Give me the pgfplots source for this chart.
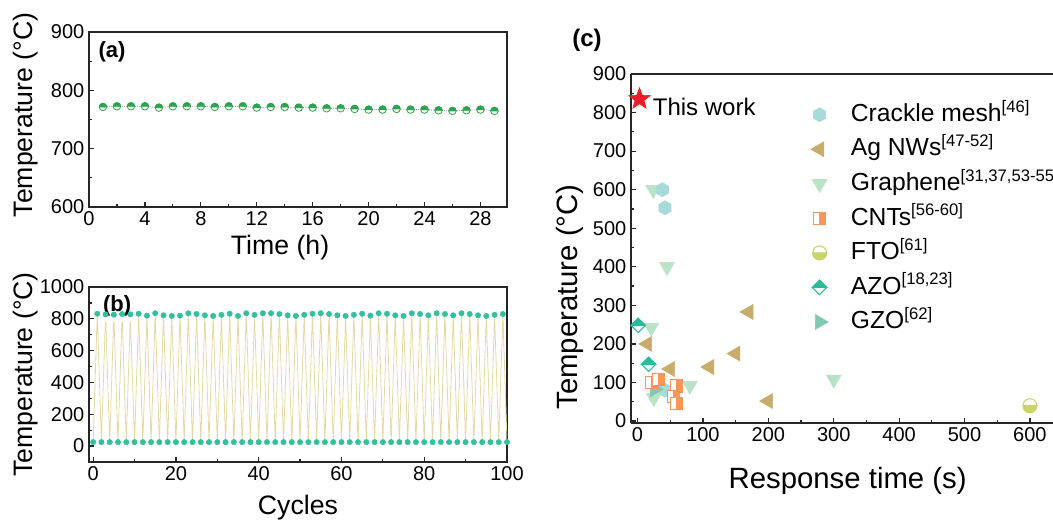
\documentclass[border=0pt]{standalone}
\usepackage{fontspec}
\setmainfont{Liberation Sans}
\usepackage{pgfplots}
\usepackage{pgfplotstable}
\pgfplotsset{compat=1.18}

% colours
\definecolor{cGreenA}{HTML}{2EA34F}
\definecolor{cDotB}{HTML}{36BF9C}
\definecolor{cLineB}{HTML}{E6D7A6}
\definecolor{cCrackle}{HTML}{A6DBD9}
\definecolor{cAg}{HTML}{C8AC6B}
\definecolor{cGraph}{HTML}{B9E2C6}
\definecolor{cCNT}{HTML}{F5965A}
\definecolor{cFTO}{HTML}{C9D566}
\definecolor{cAZO}{HTML}{2BBA9A}
\definecolor{cGZO}{HTML}{82C7B2}
\definecolor{cStar}{HTML}{EE1C25}

% half-filled circle, upper half solid
\pgfdeclareplotmark{halfcircA}{%
  \pgfpathcircle{\pgfpointorigin}{\pgfplotmarksize}%
  \pgfsetfillcolor{white}\pgfusepathqfillstroke
  \pgfpathmoveto{\pgfqpoint{\pgfplotmarksize}{0pt}}%
  \pgfpatharc{0}{180}{\pgfplotmarksize}%
  \pgfpathclose
  \pgfsetfillcolor{cGreenA}\pgfusepathqfillstroke}
% half-filled circle, lower half solid
\pgfdeclareplotmark{halfcircFTO}{%
  \pgfpathcircle{\pgfpointorigin}{\pgfplotmarksize}%
  \pgfsetfillcolor{white}\pgfusepathqfillstroke
  \pgfpathmoveto{\pgfqpoint{-\pgfplotmarksize}{0pt}}%
  \pgfpatharc{180}{360}{\pgfplotmarksize}%
  \pgfpathclose
  \pgfsetfillcolor{cFTO}\pgfusepathqfillstroke}
% diamond, upper half solid
\pgfdeclareplotmark{halfdiamAZO}{%
  \pgfpathmoveto{\pgfqpoint{0pt}{\pgfplotmarksize}}%
  \pgfpathlineto{\pgfqpoint{\pgfplotmarksize}{0pt}}%
  \pgfpathlineto{\pgfqpoint{0pt}{-\pgfplotmarksize}}%
  \pgfpathlineto{\pgfqpoint{-\pgfplotmarksize}{0pt}}%
  \pgfpathclose
  \pgfsetfillcolor{white}\pgfusepathqfillstroke
  \pgfpathmoveto{\pgfqpoint{0pt}{\pgfplotmarksize}}%
  \pgfpathlineto{\pgfqpoint{\pgfplotmarksize}{0pt}}%
  \pgfpathlineto{\pgfqpoint{-\pgfplotmarksize}{0pt}}%
  \pgfpathclose
  \pgfsetfillcolor{cAZO}\pgfusepathqfillstroke}
% square, right half solid
\pgfdeclareplotmark{halfsqCNT}{%
  \pgfpathrectangle{\pgfqpoint{-\pgfplotmarksize}{-\pgfplotmarksize}}{\pgfqpoint{2\pgfplotmarksize}{2\pgfplotmarksize}}%
  \pgfsetfillcolor{white}\pgfusepathqfillstroke
  \pgfpathrectangle{\pgfqpoint{0pt}{-\pgfplotmarksize}}{\pgfqpoint{\pgfplotmarksize}{2\pgfplotmarksize}}%
  \pgfsetfillcolor{cCNT}\pgfusepathqfillstroke}
% filled hexagon
\pgfdeclareplotmark{hexagon*}{%
  \pgfpathmoveto{\pgfpointpolar{90}{\pgfplotmarksize}}%
  \pgfpathlineto{\pgfpointpolar{150}{\pgfplotmarksize}}%
  \pgfpathlineto{\pgfpointpolar{210}{\pgfplotmarksize}}%
  \pgfpathlineto{\pgfpointpolar{270}{\pgfplotmarksize}}%
  \pgfpathlineto{\pgfpointpolar{330}{\pgfplotmarksize}}%
  \pgfpathlineto{\pgfpointpolar{30}{\pgfplotmarksize}}%
  \pgfpathclose\pgfusepathqfillstroke}
% filled five-point star
\pgfdeclareplotmark{fstar}{%
  \pgfpathmoveto{\pgfpointpolar{90}{\pgfplotmarksize}}%
  \pgfpathlineto{\pgfpointpolar{126}{0.42\pgfplotmarksize}}%
  \pgfpathlineto{\pgfpointpolar{162}{\pgfplotmarksize}}%
  \pgfpathlineto{\pgfpointpolar{198}{0.42\pgfplotmarksize}}%
  \pgfpathlineto{\pgfpointpolar{234}{\pgfplotmarksize}}%
  \pgfpathlineto{\pgfpointpolar{270}{0.42\pgfplotmarksize}}%
  \pgfpathlineto{\pgfpointpolar{306}{\pgfplotmarksize}}%
  \pgfpathlineto{\pgfpointpolar{342}{0.42\pgfplotmarksize}}%
  \pgfpathlineto{\pgfpointpolar{18}{\pgfplotmarksize}}%
  \pgfpathlineto{\pgfpointpolar{54}{0.42\pgfplotmarksize}}%
  \pgfpathclose\pgfusepathqfillstroke}

\newcommand{\sups}[1]{\raisebox{7pt}{\fontsize{12.5}{14}\selectfont #1}}

\pgfplotsset{
  panel/.style={
    scale only axis,
    axis line style={line width=1pt, color=black!85},
    tick align=inside,
    xtick pos=left, ytick pos=left,
    major tick length=3.8pt, minor tick length=2.2pt,
    every tick/.style={black!85, line width=0.9pt},
    tick label style={font=\fontsize{15}{18}\selectfont},
    /pgf/number format/assume math mode=true,
    /pgf/number format/1000 sep={},
    label style={font=\fontsize{20}{24}\selectfont},
  }
}

% temperature during a 29 h hold
\pgfplotstableread{
t T
1 771.4
2 772.6
3 772.6
4 772.6
5 770.3
6 772.6
7 772.6
8 772.6
9 771.4
10 772.6
11 772.6
12 770.3
13 771.4
14 771.4
15 770.3
16 770.3
17 769.1
18 769.1
19 768.0
20 766.9
21 766.9
22 768.0
23 766.9
24 766.9
25 765.7
26 764.6
27 765.7
28 766.9
29 764.6
}\holddata

% on/off cycling
\pgfplotstableread{
n T
0 25
1 832
2 25
3 828
4 25
5 826
6 25
7 830
8 25
9 828
10 25
11 832
12 25
13 820
14 25
15 835
16 25
17 822
18 25
19 818
20 25
21 820
22 25
23 835
24 25
25 830
26 25
27 822
28 25
29 818
30 25
31 825
32 25
33 832
34 25
35 818
36 25
37 835
38 25
39 825
40 25
41 835
42 25
43 835
44 25
45 830
46 25
47 822
48 25
49 818
50 25
51 825
52 25
53 832
54 25
55 835
56 25
57 830
58 25
59 822
60 25
61 818
62 25
63 825
64 25
65 832
66 25
67 820
68 25
69 835
70 25
71 832
72 25
73 822
74 25
75 818
76 25
77 835
78 25
79 830
80 25
81 822
82 25
83 835
84 25
85 830
86 25
87 822
88 25
89 835
90 25
91 830
92 25
93 822
94 25
95 818
96 25
97 825
98 25
99 830
100 25
}\cycledata

\begin{document}
\begin{tikzpicture}
%---------------- (a) ----------------
\begin{axis}[panel,
  at={(66.75pt,240pt)}, anchor=south west,
  width=313.5pt, height=131.25pt,
  xmin=0, xmax=29.9, ymin=600, ymax=900,
  xtick={0,4,...,28}, ytick={600,700,800,900},
  minor x tick num=1, minor y tick num=1,
  xlabel={Time (h)}, ylabel={Temperature (°C)},
  xlabel style={at={(axis description cs:0.457,-0.234)}, anchor=center},
  ylabel style={at={(axis description cs:-0.151,0.526)}, anchor=center},
]
\addplot[densely dotted, color=gray, line width=0.6pt,
  mark=halfcircA, mark size=2.8pt,
  mark options={solid, draw=cGreenA, line width=0.6pt}] table[x=t, y=T] {\holddata};
\node[font=\fontsize{16.5}{18}\bfseries, anchor=center] at (axis description cs:0.055,0.886) {(a)};
\end{axis}

%---------------- (b) ----------------
\begin{axis}[panel, set layers,
  at={(66.75pt,48.75pt)}, anchor=south west,
  width=313.5pt, height=131.25pt,
  xmin=-1, xmax=100, ymin=-100, ymax=1000,
  xtick={0,20,...,100}, ytick={0,200,...,1000},
  minor x tick num=1, minor y tick num=1,
  xlabel={Cycles}, ylabel={Temperature (°C)},
  xlabel style={at={(axis description cs:0.5,-0.263)}, anchor=center},
  ylabel style={at={(axis description cs:-0.151,0.5)}, anchor=center},
]
\addplot[color=cLineB, line width=0.6pt, no marks] table[x=n, y=T] {\cycledata};
\addplot[only marks, mark=*, mark size=2pt, color=cDotB] table[x=n, y=T] {\cycledata};
\node[on layer=axis foreground, fill=white, inner xsep=1pt, inner ysep=4pt, font=\fontsize{16.5}{18}\bfseries, anchor=center] at (axis cs:5.8,880) {(b)};
\end{axis}

%---------------- (c) ----------------
\begin{axis}[panel,
  at={(473.25pt,78pt)}, anchor=south west,
  width=323.7pt, height=261.75pt,
  axis x line*=bottom, axis y line*=left,
  xmin=-10, xmax=650, ymin=-5, ymax=900,
  xtick={0,100,...,600}, ytick={0,100,...,900},
  minor x tick num=1, minor y tick num=1,
  label style={font=\fontsize{22}{26}\selectfont},
  xlabel={Response time (s)}, ylabel={Temperature (°C)},
  xlabel style={at={(axis description cs:0.502,-0.167)}, anchor=center},
  ylabel style={at={(axis description cs:-0.141,0.361)}, anchor=center},
  legend cell align=left,
  legend style={draw=none, fill=none, at={(axis description cs:0.407,0.926)}, anchor=north west,
    font=\fontsize{18.5}{20}\selectfont, row sep=7.9pt,
    nodes={inner sep=0pt, text height=14pt, text depth=4pt},
    /tikz/every odd column/.append style={column sep=17pt}},
]
% top frame line
\draw[line width=1pt, black!85] (rel axis cs:0,1) -- (rel axis cs:1,1);

% Graphene
\addplot[only marks, mark=triangle*, mark size=6.5pt, color=cGraph, mark options={rotate=180}, forget plot]
  coordinates {(24,600) (45,400) (21,243) (25,60) (80,92) (300,108)};
% Crackle mesh
\addplot[only marks, mark=hexagon*, mark size=5.3pt, color=cCrackle, forget plot]
  coordinates {(38,600) (42,553) (42,80)};
% Ag NWs
\addplot[only marks, mark=triangle*, mark size=6.5pt, color=cAg, mark options={rotate=90}, forget plot]
  coordinates {(15,200) (50,135) (110,140) (150,175) (170,283) (200,52)};
% GZO
\addplot[only marks, mark=triangle*, mark size=6.5pt, color=cGZO, mark options={rotate=-90}, forget plot]
  coordinates {(26,82)};
% CNTs
\addplot[only marks, mark=halfsqCNT, mark size=4.6pt, color=cCNT, mark options={line width=0.8pt}, forget plot]
  coordinates {(22,100) (32,108) (60,91) (55,63) (60,45)};
% FTO
\addplot[only marks, mark=halfcircFTO, mark size=5.2pt, color=cFTO, mark options={line width=0.8pt}, forget plot]
  coordinates {(600,40)};
% AZO
\addplot[only marks, mark=halfdiamAZO, mark size=5.4pt, color=cAZO, mark options={line width=0.8pt}, forget plot]
  coordinates {(1,248) (17,147)};
% this work
\addplot[only marks, mark=fstar, mark size=8.5pt, color=cStar, forget plot]
  coordinates {(3,835)};
\node[anchor=west, inner sep=0pt, font=\fontsize{18}{20}\selectfont] at (axis cs:23,815) {This work};

\addlegendimage{only marks, mark=hexagon*, mark size=5.3pt, color=cCrackle}
\addlegendentry{Crackle mesh\sups{[46]}}
\addlegendimage{only marks, mark=triangle*, mark size=6.5pt, color=cAg, mark options={rotate=90}}
\addlegendentry{Ag NWs\sups{[47-52]}}
\addlegendimage{only marks, mark=triangle*, mark size=6.5pt, color=cGraph, mark options={rotate=180}}
\addlegendentry{Graphene\sups{[31,37,53-55]}}
\addlegendimage{only marks, mark=halfsqCNT, mark size=4.6pt, color=cCNT, mark options={line width=0.8pt}}
\addlegendentry{CNTs\sups{[56-60]}}
\addlegendimage{only marks, mark=halfcircFTO, mark size=5.2pt, color=cFTO, mark options={line width=0.8pt}}
\addlegendentry{FTO\sups{[61]}}
\addlegendimage{only marks, mark=halfdiamAZO, mark size=5.4pt, color=cAZO, mark options={line width=0.8pt}}
\addlegendentry{AZO\sups{[18,23]}}
\addlegendimage{only marks, mark=triangle*, mark size=6.5pt, color=cGZO, mark options={rotate=-90}}
\addlegendentry{GZO\sups{[62]}}
\end{axis}

\node[font=\fontsize{18}{20}\bfseries, anchor=center] at (440.25pt,365.25pt) {(c)};

\pgfresetboundingbox
\useasboundingbox (0,0) rectangle (789.75pt,395.25pt);
\end{tikzpicture}
\end{document}
